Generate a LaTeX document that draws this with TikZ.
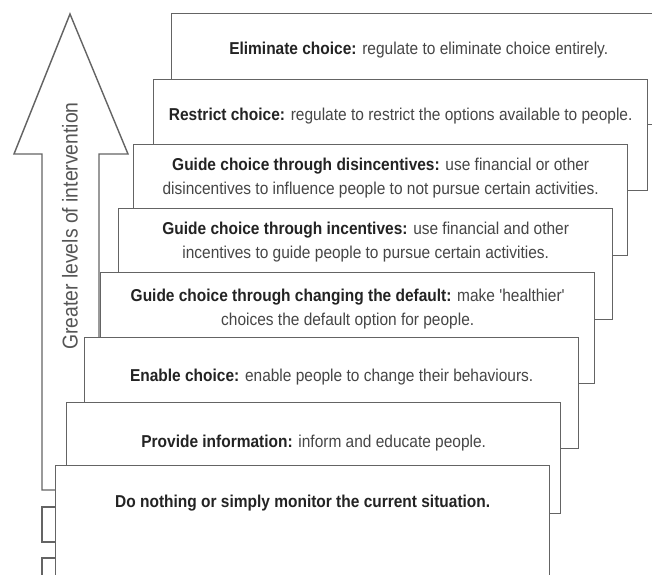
\documentclass[tikz,border=0pt]{standalone}
\usepackage{fontspec}
\setmainfont{Liberation Sans}
\newfontfamily\narrowsans{Liberation Sans}[FakeStretch=0.9]
\usepackage{xcolor}
\usepackage{tikz}
\usetikzlibrary{positioning,calc}
\definecolor{edgegray}{RGB}{100,100,100}
\definecolor{textgray}{RGB}{70,70,70}
\definecolor{boldgray}{RGB}{35,35,35}
\definecolor{labelgray}{RGB}{85,85,85}
\newcommand{\lead}[1]{\textcolor{boldgray}{\textbf{#1}}}
\tikzset{
  % one step of the staircase
  stepbox/.style={
    draw=edgegray,
    line width=1.4pt,
    fill=white,
    minimum width=494pt,
    minimum height=111pt,
    inner sep=0pt,
    anchor=north west
  },
  % text inside a step
  steptext/.style={
    font=\narrowsans\fontsize{17.2}{24}\selectfont,
    text=textgray,
    align=center,
    inner sep=0pt
  },
  % outline of the big arrow
  outline/.style={draw=edgegray, line width=1.4pt, fill=white},
}

\begin{document}
\begin{tikzpicture}[x=1pt,y=-1pt]
        \clip (0,0) rectangle (652,574);
        \fill[white] (0,0) rectangle (652,574);

        % big arrow on the left
        \draw[outline] (70,14) -- (128,154) -- (99,154) -- (99,490)
            -- (42,490) -- (42,154) -- (14,154) -- cycle;
        \node[rotate=90, font=\narrowsans\fontsize{21.5}{24}\selectfont, text=labelgray]
            (lbl) at (70,226) {Greater levels of intervention};

        % pieces under the arrow
        \draw[outline] (60,507) -- (42,507) -- (42,542) -- (60,542);
        \draw[outline] (60,558) -- (42,558) -- (42,590);

        % Eliminate choice
        \node[stepbox] (b1) at (171,13) {};
        \node[steptext] (t1) at ([yshift=-37pt]b1.north)
            {\lead{Eliminate choice:} regulate to eliminate choice entirely.};

        % Restrict choice
        \node[stepbox] (b2) at (153,79) {};
        \node[steptext] (t2) at ([yshift=-37pt]b2.north)
            {\lead{Restrict choice:} regulate to restrict the options available to people.};

        % Disincentives
        \node[stepbox] (b3) at (133,144) {};
        \node[steptext] (t3) at ([yshift=-34pt]b3.north)
            {\lead{Guide choice through disincentives:} use financial or other\\
             disincentives to influence people to not pursue certain activities.};

        % Incentives
        \node[stepbox] (b4) at (118,208) {};
        \node[steptext] (t4) at ([yshift=-34pt]b4.north)
            {\lead{Guide choice through incentives:} use financial and other\\
             incentives to guide people to pursue certain activities.};

        % Default
        \node[stepbox] (b5) at (100,272) {};
        \node[steptext] (t5) at ([yshift=-37pt]b5.north)
            {\lead{Guide choice through changing the default:} make 'healthier'\\
             choices the default option for people.};

        % Enable choice
        \node[stepbox] (b6) at (84,337) {};
        \node[steptext] (t6) at ([yshift=-40pt]b6.north)
            {\lead{Enable choice:} enable people to change their behaviours.};

        % Provide information
        \node[stepbox] (b7) at (66,402) {};
        \node[steptext] (t7) at ([yshift=-41pt]b7.north)
            {\lead{Provide information:} inform and educate people.};

        % Do nothing
        \node[stepbox] (b8) at (55,465) {};
        \node[steptext] (t8) at ([yshift=-38pt]b8.north)
            {\lead{Do nothing or simply monitor the current situation.}};
    \end{tikzpicture}
\end{document}
